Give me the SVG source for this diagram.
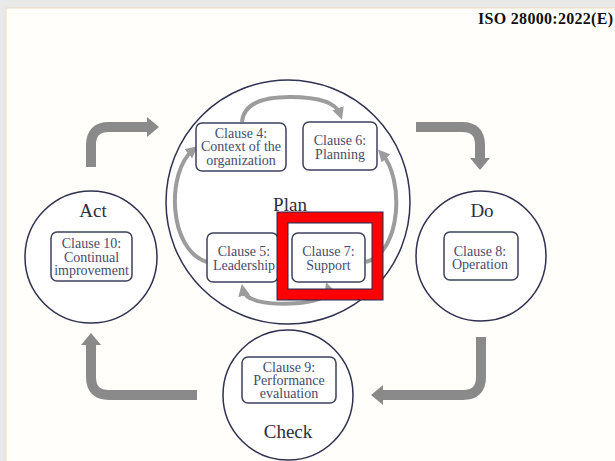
<svg xmlns="http://www.w3.org/2000/svg" width="615" height="461" viewBox="0 0 615 461">
<defs>
<style>
.circ{fill:#ffffff;stroke:#2f3150;stroke-width:1.5}
.box{fill:#ffffff;stroke:#3d405e;stroke-width:1.5}
.bt{font-family:"Liberation Serif",serif;font-size:14px;fill:#484b6c;text-anchor:middle}
.hd{font-family:"Liberation Serif",serif;font-size:19px;fill:#2b2d3f;text-anchor:middle}
.big{fill:none;stroke:#8a8a8a;stroke-width:10}
.bighead{fill:#8a8a8a}
.small{fill:none;stroke:#9c9c9c;stroke-width:4}
</style>
<marker id="ah" viewBox="0 0 10 10" refX="5" refY="5" markerWidth="3" markerHeight="3" orient="auto">
<path d="M0 0 L10 5 L0 10 Z" fill="#9c9c9c"/>
</marker>
</defs>
<rect x="0" y="0" width="615" height="461" fill="#e9e9e9"/>
<rect x="6" y="8" width="615" height="460" fill="#fffefb" stroke="#f0dcc4" stroke-width="1"/>
<text x="613" y="24" font-family="Liberation Serif,serif" font-size="16" font-weight="bold" fill="#111" text-anchor="end" textLength="135">ISO 28000:2022(E)</text>

<g id="connectors">
<path class="big" d="M91 167 V145 Q91 127 109 127 H148"/>
<polygon class="bighead" points="147,117 159,127 147,137"/>
<path class="big" d="M416 127 H462 Q480 127 480 145 V159"/>
<polygon class="bighead" points="470,158 480,170 490,158"/>
<path class="big" d="M481 337 V377 Q481 395 463 395 H382"/>
<polygon class="bighead" points="383,385 371,395 383,405"/>
<path class="big" d="M197 395 H109 Q91 395 91 377 V344"/>
<polygon class="bighead" points="81,345 91,333 101,345"/>
</g>

<g id="act"><circle class="circ" cx="91" cy="257" r="66"/>
<text class="hd" x="93" y="217">Act</text></g>
<g id="do"><circle class="circ" cx="481" cy="256" r="65"/>
<text class="hd" x="482" y="217">Do</text></g>
<g id="check"><circle class="circ" cx="288" cy="395" r="65"/>
<text class="hd" x="288" y="438" font-size="20">Check</text></g>
<g id="plan"><circle class="circ" cx="288" cy="202" r="122"/>
<text class="hd" x="290" y="211">Plan</text></g>

<g id="inner-connectors">
<path class="small" d="M242 122 Q244 97 290 97 Q334 97 340 114" marker-end="url(#ah)"/>
<path class="small" d="M366 262 C402 252 404 178 382 154" marker-end="url(#ah)"/>
<path class="small" d="M207 262 C168 250 166 172 193 150" marker-end="url(#ah)"/>
<path class="small" d="M300 303 C325 300 330 294 328 288" marker-end="url(#ah)"/>
<path class="small" d="M300 303 C265 306 245 300 243 290" marker-end="url(#ah)"/>
</g>

<g id="clause4"><rect class="box" x="196" y="123" width="90" height="48" rx="6"/>
<text class="bt" x="241" y="137.5">Clause 4:</text>
<text class="bt" x="241" y="151">Context of the</text>
<text class="bt" x="241" y="164.5">organization</text></g>
<g id="clause6"><rect class="box" x="303" y="122" width="74" height="48" rx="6"/>
<text class="bt" x="340" y="145">Clause 6:</text>
<text class="bt" x="340" y="158.5">Planning</text></g>
<g id="clause5"><rect class="box" x="207" y="233" width="71" height="49" rx="6"/>
<text class="bt" x="244" y="256">Clause 5:</text>
<text class="bt" x="244" y="269.5">Leadership</text></g>
<g id="clause7"><rect class="box" x="292" y="233" width="73" height="49" rx="6"/>
<text class="bt" x="328.5" y="256">Clause 7:</text>
<text class="bt" x="328.5" y="269.5">Support</text></g>
<g id="clause10"><rect class="box" x="51" y="232" width="81" height="49" rx="6"/>
<text class="bt" x="91.5" y="248">Clause 10:</text>
<text class="bt" x="91.5" y="261.5">Continual</text>
<text class="bt" x="91.5" y="274.5">improvement</text></g>
<g id="clause8"><rect class="box" x="444" y="232" width="74" height="48" rx="6"/>
<text class="bt" x="480" y="255.5">Clause 8:</text>
<text class="bt" x="480" y="268.5">Operation</text></g>
<g id="clause9"><rect class="box" x="242" y="357" width="94" height="46" rx="6"/>
<text class="bt" x="289" y="371.5">Clause 9:</text>
<text class="bt" x="289" y="384.5">Performance</text>
<text class="bt" x="289" y="397.5">evaluation</text></g>

<g id="highlight">
<rect x="282.5" y="217.5" width="95" height="77" fill="none" stroke="#ff0000" stroke-width="11"/>
<rect x="277" y="212" width="106" height="88" fill="none" stroke="#1f2a5a" stroke-width="1"/>
<rect x="288" y="223" width="84" height="66" fill="none" stroke="#1f2a5a" stroke-width="1"/>
</g>
</svg>
